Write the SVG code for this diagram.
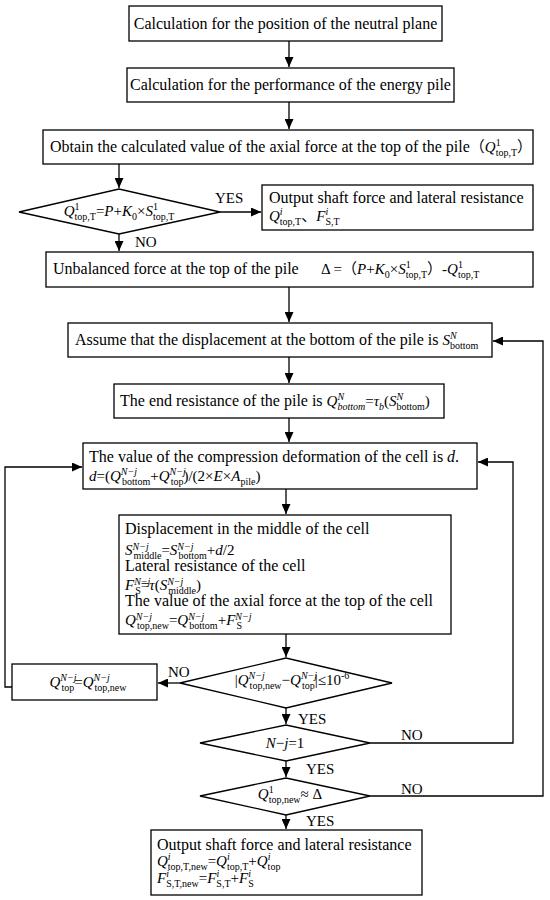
<svg xmlns="http://www.w3.org/2000/svg" width="550" height="900" viewBox="0 0 550 900">
<style>
.b{fill:#fff;stroke:#000;stroke-width:1.3}
.c{fill:none;stroke:#000;stroke-width:1.3}
text{font-family:"Liberation Serif","Noto Sans CJK SC",serif;font-size:16px;fill:#000}
.f{font-size:15px}
.l{font-size:15px}
.i{font-style:italic}
.s{font-size:10px;font-style:normal}
.si{font-size:10px;font-style:italic}
.m{text-anchor:middle}
</style>
<defs>
<marker id="ah" markerUnits="userSpaceOnUse" markerWidth="10" markerHeight="9" refX="10" refY="4.5" orient="auto">
<path d="M0,0 L10,4.5 L0,9 z" fill="#000"/>
</marker>
</defs>
<rect width="550" height="900" fill="#fff"/>
<g id="connectors" class="c" marker-end="url(#ah)">
<path d="M289,41 V67"/>
<path d="M289,102 V129"/>
<path d="M119,164 V188"/>
<path d="M220,212 H261"/>
<path d="M119,234 V251"/>
<path d="M289,287 V322"/>
<path d="M289,357 V383"/>
<path d="M289,418 V442"/>
<path d="M286,489 V514"/>
<path d="M286,634 V657"/>
<path d="M180,683 H158"/>
<path d="M12,687 H5 V467 H82"/>
<path d="M286,708 V724"/>
<path d="M286,761 V777"/>
<path d="M370,743 H513 V462 H478"/>
<path d="M286,815 V829"/>
<path d="M370,796 H543 V341 H493"/>
</g>
<g id="labels">
<text class="l" x="215" y="203">YES</text>
<text class="l" x="135" y="247">NO</text>
<text class="l" x="168" y="677">NO</text>
<text class="l" x="298" y="724">YES</text>
<text class="l" x="306" y="774">YES</text>
<text class="l" x="306" y="826">YES</text>
<text class="l" x="401" y="740">NO</text>
<text class="l" x="401" y="794">NO</text>
</g>
<g id="n1">
<rect class="b" x="129" y="6" width="313" height="35"/>
<text class="m" x="285.5" y="29">Calculation for the position of the neutral plane</text>
</g>
<g id="n2">
<rect class="b" x="127" y="68" width="327" height="34"/>
<text class="m" x="290.5" y="90">Calculation for the performance of the energy pile</text>
</g>
<g id="n3">
<rect class="b" x="43" y="130" width="490" height="34"/>
<text x="50" y="152">Obtain the calculated value of the axial force at the top of the pile<tspan class="f">（<tspan class="i">Q</tspan><tspan class="s" dy="-6">1</tspan><tspan class="s" dx="-5" dy="10">top,T</tspan><tspan dy="-4">）</tspan></tspan></text>
</g>
<g id="d1">
<polygon class="b" points="19,212 119,189 220,212 119,234"/>
<text class="m f" x="119" y="216"><tspan class="i">Q</tspan><tspan class="s" dy="-6">1</tspan><tspan class="s" dx="-5" dy="10">top,T</tspan><tspan dy="-4">=</tspan><tspan class="i">P</tspan>+<tspan class="i">K</tspan><tspan class="s" dy="4">0</tspan><tspan dy="-4">×</tspan><tspan class="i">S</tspan><tspan class="s" dy="-6">1</tspan><tspan class="s" dx="-5" dy="10">top,T</tspan></text>
</g>
<g id="out1">
<rect class="b" x="262" y="185" width="271" height="45"/>
<text x="269" y="203">Output shaft force and lateral resistance</text>
<text class="f" x="269" y="221"><tspan class="i">Q</tspan><tspan class="si" dy="-6">i</tspan><tspan class="s" dx="-2.8" dy="10">top,T</tspan><tspan dy="-4">、</tspan><tspan class="i">F</tspan><tspan class="si" dy="-6">i</tspan><tspan class="s" dx="-2.8" dy="10">S,T</tspan></text>
</g>
<g id="n4">
<rect class="b" x="46" y="252" width="487" height="35"/>
<text x="53" y="274">Unbalanced force at the top of the pile</text>
<text class="f" x="321" y="274">Δ =（<tspan class="i">P</tspan>+<tspan class="i">K</tspan><tspan class="s" dy="4">0</tspan><tspan dy="-4">×</tspan><tspan class="i">S</tspan><tspan class="s" dy="-6">1</tspan><tspan class="s" dx="-5" dy="10">top,T</tspan><tspan dy="-4">）-</tspan><tspan class="i">Q</tspan><tspan class="s" dy="-6">1</tspan><tspan class="s" dx="-5" dy="10">top,T</tspan></text>
</g>
<g id="n5">
<rect class="b" x="68" y="323" width="424" height="34"/>
<text x="75" y="345">Assume that the displacement at the bottom of the pile is <tspan class="f"><tspan class="i">S</tspan><tspan class="si" dy="-6">N</tspan><tspan class="s" dx="-6.7" dy="10">bottom</tspan></tspan></text>
</g>
<g id="n6">
<rect class="b" x="114" y="384" width="330" height="34"/>
<text x="120" y="406">The end resistance of the pile is <tspan class="f"><tspan class="i">Q</tspan><tspan class="si" dy="-6">N</tspan><tspan class="si" dx="-6.7" dy="10">bottom</tspan><tspan dy="-4">=</tspan><tspan class="i">τ</tspan><tspan class="si" dy="4">b</tspan><tspan dy="-4">(</tspan><tspan class="i">S</tspan><tspan class="si" dy="-6">N</tspan><tspan class="s" dx="-6.7" dy="10">bottom</tspan><tspan dy="-4">)</tspan></tspan></text>
</g>
<g id="n7">
<rect class="b" x="83" y="443" width="394" height="46"/>
<text x="89" y="462">The value of the compression deformation of the cell is <tspan class="i">d</tspan>.</text>
<text class="f" x="89" y="481"><tspan class="i">d</tspan>=(<tspan class="i">Q</tspan><tspan class="si" dy="-6">N−j</tspan><tspan class="s" dx="-15.1" dy="10">bottom</tspan><tspan dy="-4">+</tspan><tspan class="i">Q</tspan><tspan class="si" dy="-6">N−j</tspan><tspan class="s" dx="-15.1" dy="10">top</tspan><tspan dy="-4">)/(2×</tspan><tspan class="i">E</tspan>×<tspan class="i">A</tspan><tspan class="s" dy="4">pile</tspan><tspan dy="-4">)</tspan></text>
</g>
<g id="n8">
<rect class="b" x="119" y="515" width="332" height="119"/>
<text x="125" y="534">Displacement in the middle of the cell</text>
<text class="f" x="125" y="555"><tspan class="i">S</tspan><tspan class="si" dy="-5">N−j</tspan><tspan class="s" dx="-15.1" dy="9">middle</tspan><tspan dy="-4">=</tspan><tspan class="i">S</tspan><tspan class="si" dy="-5">N−j</tspan><tspan class="s" dx="-15.1" dy="9">bottom</tspan><tspan dy="-4">+</tspan><tspan class="i">d</tspan>/2</text>
<text x="125" y="571">Lateral resistance of the cell</text>
<text class="f" x="125" y="590"><tspan class="i">F</tspan><tspan class="si" dy="-5">N−j</tspan><tspan class="s" dx="-15.1" dy="9">S</tspan><tspan dy="-4">=</tspan><tspan class="i">τ</tspan>(<tspan class="i">S</tspan><tspan class="si" dy="-5">N−j</tspan><tspan class="s" dx="-15.1" dy="9">middle</tspan><tspan dy="-4">)</tspan></text>
<text x="125" y="606">The value of the axial force at the top of the cell</text>
<text class="f" x="125" y="625"><tspan class="i">Q</tspan><tspan class="si" dy="-5">N−j</tspan><tspan class="s" dx="-15.1" dy="9">top,new</tspan><tspan dy="-4">=</tspan><tspan class="i">Q</tspan><tspan class="si" dy="-5">N−j</tspan><tspan class="s" dx="-15.1" dy="9">bottom</tspan><tspan dy="-4">+</tspan><tspan class="i">F</tspan><tspan class="si" dy="-5">N−j</tspan><tspan class="s" dx="-15.1" dy="9">S</tspan></text>
</g>
<g id="d2">
<polygon class="b" points="180,683 286,658 392,683 286,708"/>
<text class="m f" x="292" y="685">|<tspan class="i">Q</tspan><tspan class="si" dy="-6">N−j</tspan><tspan class="s" dx="-15.1" dy="10">top,new</tspan><tspan dy="-4">−</tspan><tspan class="i">Q</tspan><tspan class="si" dy="-6">N−j</tspan><tspan class="s" dx="-15.1" dy="10">top</tspan><tspan dy="-4">|≤10</tspan><tspan class="s" dy="-6">-6</tspan></text>
</g>
<g id="n9">
<rect class="b" x="12" y="664" width="145" height="36"/>
<text class="m f" x="88" y="687"><tspan class="i">Q</tspan><tspan class="si" dy="-6">N−j</tspan><tspan class="s" dx="-15.1" dy="10">top</tspan><tspan dy="-4">=</tspan><tspan class="i">Q</tspan><tspan class="si" dy="-6">N−j</tspan><tspan class="s" dx="-15.1" dy="10">top,new</tspan></text>
</g>
<g id="d3">
<polygon class="b" points="200,743 286,725 370,743 286,761"/>
<text class="m f" x="285" y="748"><tspan class="i">N</tspan>−<tspan class="i">j</tspan>=1</text>
</g>
<g id="d4">
<polygon class="b" points="200,796 286,778 370,796 286,815"/>
<text class="m f" x="290" y="799"><tspan class="i">Q</tspan><tspan class="s" dy="-6">1</tspan><tspan class="s" dx="-5" dy="10">top,new</tspan><tspan dy="-4">≈ Δ</tspan></text>
</g>
<g id="out2">
<rect class="b" x="151" y="830" width="271" height="65"/>
<text x="157" y="850">Output shaft force and lateral resistance</text>
<text class="f" x="157" y="866"><tspan class="i">Q</tspan><tspan class="si" dy="-6">i</tspan><tspan class="s" dx="-2.8" dy="10">top,T,new</tspan><tspan dy="-4">=</tspan><tspan class="i">Q</tspan><tspan class="si" dy="-6">i</tspan><tspan class="s" dx="-2.8" dy="10">top,T</tspan><tspan dy="-4">+</tspan><tspan class="i">Q</tspan><tspan class="si" dy="-6">i</tspan><tspan class="s" dx="-2.8" dy="10">top</tspan></text>
<text class="f" x="157" y="883"><tspan class="i">F</tspan><tspan class="si" dy="-6">i</tspan><tspan class="s" dx="-2.8" dy="10">S,T,new</tspan><tspan dy="-4">=</tspan><tspan class="i">F</tspan><tspan class="si" dy="-6">i</tspan><tspan class="s" dx="-2.8" dy="10">S,T</tspan><tspan dy="-4">+</tspan><tspan class="i">F</tspan><tspan class="si" dy="-6">i</tspan><tspan class="s" dx="-2.8" dy="10">S</tspan></text>
</g>
</svg>
